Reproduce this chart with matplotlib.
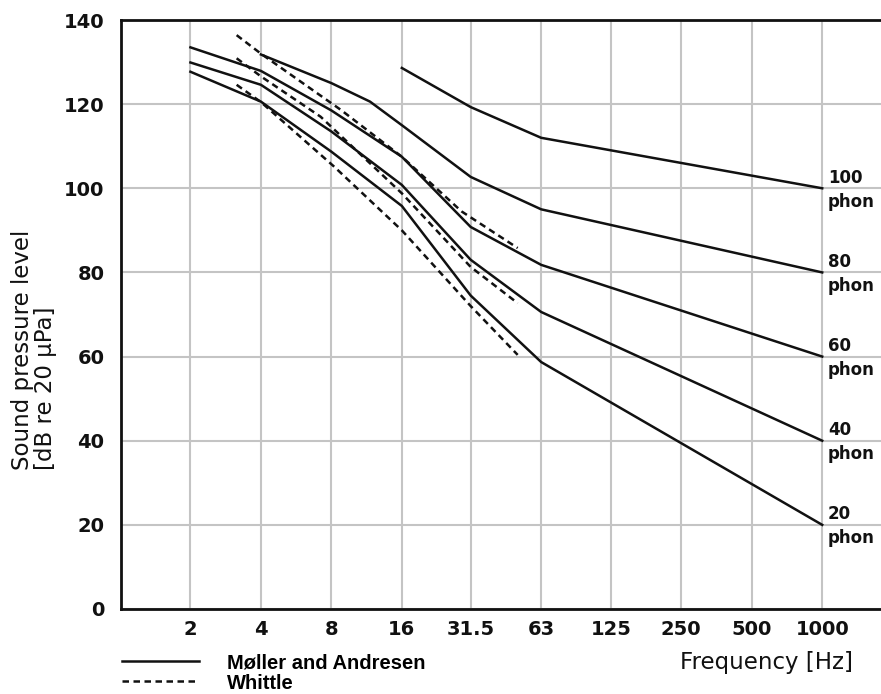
import matplotlib.pyplot as plt
from matplotlib.lines import Line2D
from matplotlib.ticker import FixedLocator, NullLocator

# frequency axis (octave steps)
freq_ticks = [2, 4, 8, 16, 31.5, 63, 125, 250, 500, 1000]
freq_labels = ["2", "4", "8", "16", "31.5", "63", "125", "250", "500", "1000"]

# Møller and Andresen equal-loudness contours
f_moller = [2, 4, 8, 16, 31.5, 63, 1000]
spl_20 = [127.7, 120.6, 108.7, 95.8, 74.5, 58.7, 20]
spl_40 = [129.9, 124.6, 113.5, 100.8, 83.0, 70.6, 40]
spl_60 = [133.5, 127.9, 118.5, 107.5, 90.8, 81.8, 60]
f_80 = [4, 8, 11.7, 16, 31.5, 63, 1000]
spl_80 = [131.8, 125.0, 120.6, 115.0, 102.7, 95.0, 80]
f_100 = [16, 31.5, 63, 1000]
spl_100 = [128.6, 119.3, 112.0, 100]
phon_levels = [20, 40, 60, 80, 100]

# Whittle contours
f_wh1 = [3.15, 4, 8.8, 16, 28.8, 50]
spl_wh1 = [136.4, 132.0, 118.6, 107.5, 94.5, 85.8]
f_wh2 = [3.15, 4, 7.2, 16, 31.5, 50]
spl_wh2 = [130.9, 126.6, 117.0, 98.8, 81.3, 72.7]
f_wh3 = [3.15, 4, 8.2, 16, 31.5, 50]
spl_wh3 = [124.6, 120.5, 105.2, 90.0, 72.0, 60.4]

fig = plt.figure(figsize=(8.81, 6.94), dpi=100)
ax = fig.add_axes([121/881, 85/694, 760/881, 589/694])

lw = 1.8
ink = "#111111"
solid = dict(color=ink, lw=lw, solid_joinstyle="round")
dashed = dict(color=ink, lw=lw, dashes=(2.6, 1.8))

for f, s in [(f_moller, spl_20), (f_moller, spl_40), (f_moller, spl_60),
             (f_80, spl_80), (f_100, spl_100)]:
    ax.plot(f, s, **solid)
for f, s in [(f_wh1, spl_wh1), (f_wh2, spl_wh2), (f_wh3, spl_wh3)]:
    ax.plot(f, s, **dashed)

ends = [spl_20[-1], spl_40[-1], spl_60[-1], spl_80[-1], spl_100[-1]]
for p, y in zip(phon_levels, ends):
    ax.annotate(f"{p}\nphon", xy=(1000, y), xytext=(4, -1), textcoords="offset points",
                ha="left", va="center", fontsize=12, fontweight="bold",
                linespacing=1.45, color=ink, annotation_clip=False)

ax.set_xscale("log", base=2)
ax.set_xlim(1.01, 1783)
ax.set_ylim(0, 140)
ax.xaxis.set_major_locator(FixedLocator(freq_ticks))
ax.xaxis.set_minor_locator(NullLocator())
ax.set_xticklabels(freq_labels)
ax.set_yticks([0, 20, 40, 60, 80, 100, 120, 140])
ax.tick_params(length=0, labelsize=14, labelcolor=ink)
ax.tick_params(axis="y", pad=12)
ax.tick_params(axis="x", pad=8)
for lab in ax.get_xticklabels() + ax.get_yticklabels():
    lab.set_fontweight("bold")

ax.grid(True, color="#c4c4c4", lw=1.5)
ax.set_axisbelow(True)
for side in ["left", "bottom", "top"]:
    ax.spines[side].set_linewidth(2)
    ax.spines[side].set_color(ink)
ax.spines["right"].set_visible(False)

fig.text(34/881, 1 - 350/694, "Sound pressure level\n[dB re 20 µPa]", rotation=90,
         ha="center", va="center", multialignment="left", fontsize=16.5,
         linespacing=1.0, color=ink)
fig.text(853/881, 1 - 662/694, "Frequency [Hz]", ha="right", va="center",
         fontsize=16.5, color=ink)

handles = [Line2D([], [], **solid), Line2D([], [], **dashed)]
fig.legend(handles, ["Møller and Andresen", "Whittle"], loc="center left",
           bbox_to_anchor=(122/881, 1 - 673/694), frameon=False, borderpad=0,
           borderaxespad=0, handlelength=3.8, handletextpad=1.4, labelspacing=0.05,
           prop={"family": "Liberation Sans", "weight": "bold", "size": 14.5})

fig.savefig("out.png", dpi=100)
